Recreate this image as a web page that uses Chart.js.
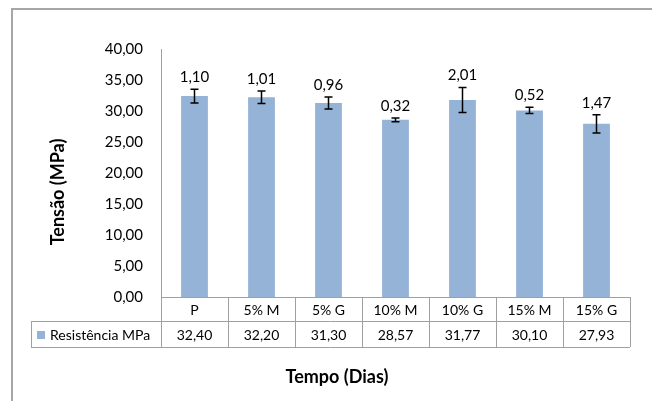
<!DOCTYPE html>
<html>
<head>
<meta charset="utf-8">
<script src="https://cdn.jsdelivr.net/npm/chart.js@4"></script>
<style>
  body { margin: 0; background: #fff; }
  canvas { display: block; }
</style>
</head>
<body>
<canvas id="chart" width="652" height="401"></canvas>
<script>
// data
const categories = ['P', '5% M', '5% G', '10% M', '10% G', '15% M', '15% G'];
const resistencia = [32.40, 32.20, 31.30, 28.57, 31.77, 30.10, 27.93];
const desvio = [1.10, 1.01, 0.96, 0.32, 2.01, 0.52, 1.47];
const yTicks = [0, 5, 10, 15, 20, 25, 30, 35, 40];

const seriesName = 'Resistência MPa';
const barColor = '#95B3D7';
const gridColor = '#a0a0a0';
const fontFamily = 'Lato, "Open Sans", sans-serif';

const fmt = v => v.toFixed(2).replace('.', ',');

// outer frame of the chart object
const framePlugin = {
  id: 'frame',
  beforeDraw(chart) {
    const ctx = chart.ctx;
    ctx.save();
    ctx.strokeStyle = '#a6a6a6';
    ctx.lineWidth = 2;
    ctx.beginPath();
    ctx.moveTo(12, 405);
    ctx.lineTo(12, 9);
    ctx.lineTo(660, 9);
    ctx.stroke();
    ctx.restore();
  }
};

// error bars + their labels
const errorBarPlugin = {
  id: 'errorBars',
  afterDatasetsDraw(chart) {
    const ctx = chart.ctx;
    const x = chart.scales.x, y = chart.scales.y;
    ctx.save();
    ctx.strokeStyle = '#000';
    ctx.lineWidth = 1.5;
    ctx.font = '15px ' + fontFamily;
    ctx.fillStyle = '#000';
    ctx.textAlign = 'center';
    ctx.textBaseline = 'middle';
    resistencia.forEach((v, i) => {
      const px = x.getPixelForValue(i);
      const top = y.getPixelForValue(v + desvio[i]);
      const bot = y.getPixelForValue(v - desvio[i]);
      ctx.beginPath();
      ctx.moveTo(px, top); ctx.lineTo(px, bot);
      ctx.moveTo(px - 4, top); ctx.lineTo(px + 4, top);
      ctx.moveTo(px - 4, bot); ctx.lineTo(px + 4, bot);
      ctx.stroke();
      ctx.fillText(fmt(desvio[i]), px, top - 12);
    });
    ctx.restore();
  }
};

// data table under the plot + axis titles
const tablePlugin = {
  id: 'dataTable',
  afterDraw(chart) {
    const ctx = chart.ctx;
    const area = chart.chartArea;
    const x = chart.scales.x;
    const colW = (area.right - area.left) / categories.length;
    const tableLeft = 31;
    const row1 = area.bottom, row2 = area.bottom + 24, row3 = area.bottom + 50;
    ctx.save();
    ctx.strokeStyle = gridColor;
    ctx.lineWidth = 1;
    ctx.beginPath();
    ctx.moveTo(area.left, row1 + 0.5); ctx.lineTo(area.right, row1 + 0.5);
    ctx.moveTo(tableLeft, row2 + 0.5); ctx.lineTo(area.right, row2 + 0.5);
    ctx.moveTo(tableLeft, row3 + 0.5); ctx.lineTo(area.right, row3 + 0.5);
    ctx.moveTo(tableLeft + 0.5, row2); ctx.lineTo(tableLeft + 0.5, row3);
    for (let i = 0; i <= categories.length; i++) {
      const lx = Math.round(area.left + i * colW) + 0.5;
      ctx.moveTo(lx, row1); ctx.lineTo(lx, row3);
    }
    ctx.stroke();

    ctx.fillStyle = '#000';
    ctx.font = '14px ' + fontFamily;
    ctx.textAlign = 'center';
    ctx.textBaseline = 'middle';
    categories.forEach((c, i) => {
      const px = x.getPixelForValue(i);
      ctx.fillText(c, px, (row1 + row2) / 2 + 1);
      ctx.fillText(fmt(resistencia[i]), px, (row2 + row3) / 2 + 1);
    });

    // legend key
    ctx.fillStyle = barColor;
    ctx.fillRect(37, (row2 + row3) / 2 - 3, 8, 8);
    ctx.fillStyle = '#000';
    ctx.textAlign = 'left';
    ctx.fillText(seriesName, 50, (row2 + row3) / 2 + 1);

    ctx.font = 'bold 18px ' + fontFamily;
    ctx.textAlign = 'center';
    ctx.fillText('Tempo (Dias)', 337, 377);

    ctx.translate(58, 192);
    ctx.rotate(-Math.PI / 2);
    ctx.fillText('Tensão (MPa)', 0, 0);
    ctx.restore();
  }
};

new Chart(document.getElementById('chart'), {
  type: 'bar',
  data: {
    labels: categories,
    datasets: [{
      label: seriesName,
      data: resistencia,
      backgroundColor: barColor,
      borderWidth: 0,
      categoryPercentage: 1,
      barPercentage: 0.4
    }]
  },
  options: {
    responsive: false,
    animation: false,
    devicePixelRatio: 1,
    layout: { padding: { top: 49, right: 22, bottom: 104, left: 0 } },
    plugins: {
      legend: { display: false },
      tooltip: { enabled: false }
    },
    scales: {
      x: { display: false },
      y: {
        min: 0,
        max: 40,
        afterFit(scale) { scale.width = 161; },
        afterBuildTicks(scale) { scale.ticks = yTicks.map(v => ({ value: v })); },
        grid: { display: false, drawTicks: false },
        border: { display: true, color: gridColor, width: 1 },
        ticks: {
          padding: 18,
          color: '#000',
          font: { family: fontFamily, size: 15 },
          callback: v => fmt(v)
        }
      }
    }
  },
  plugins: [framePlugin, errorBarPlugin, tablePlugin]
});
</script>
</body>
</html>
